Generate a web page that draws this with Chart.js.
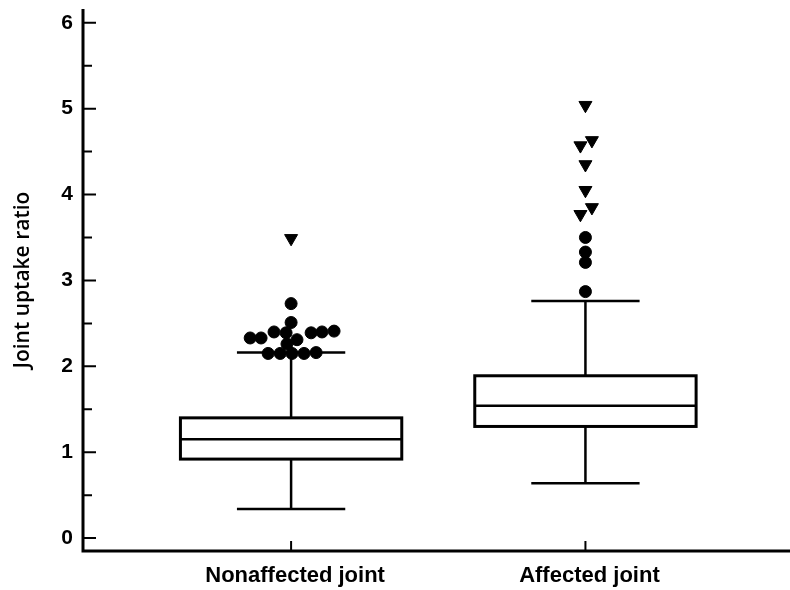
<!DOCTYPE html>
<html>
<head>
<meta charset="utf-8">
<script src="https://cdn.jsdelivr.net/npm/chart.js@4/dist/chart.umd.min.js"></script>
<style>
    html, body { margin: 0; padding: 0; background: #fff; overflow: hidden; }
    canvas { display: block; }
</style>
</head>
<body>
<canvas id="graficoCaja" width="790" height="590"></canvas>
<script>
// Categorias y estadisticos de cada caja
const categorias = ['Nonaffected joint', 'Affected joint'];
const bigoteInferior = [0.34, 0.64];
const cuartil1 = [0.92, 1.30];
const medianas = [1.15, 1.54];
const cuartil3 = [1.40, 1.89];
const bigoteSuperior = [2.16, 2.76];

// Valores atipicos (circulos y triangulos) y su desplazamiento horizontal
const noAfectadaCirculos = [2.73, 2.51, 2.33, 2.33, 2.40, 2.39, 2.31, 2.39, 2.40, 2.41, 2.26, 2.15, 2.15, 2.15, 2.15, 2.16];
const noAfectadaCirculosDesp = [0, 0, -0.139, -0.102, -0.058, -0.017, 0.020, 0.068, 0.105, 0.146, -0.014, -0.078, -0.037, 0.003, 0.044, 0.085];
const noAfectadaTriangulos = [3.49];
const noAfectadaTriangulosDesp = [0];
const afectadaCirculos = [3.50, 3.33, 3.21, 2.87];
const afectadaCirculosDesp = [0, 0, 0, 0];
const afectadaTriangulos = [5.04, 4.63, 4.57, 4.35, 4.05, 3.85, 3.77];
const afectadaTriangulosDesp = [0, 0.022, -0.017, 0, 0, 0.022, -0.017];

// Ticks del eje Y
const ticksY = [0, 1, 2, 3, 4, 5, 6];
const ticksMenoresY = [0.5, 1.5, 2.5, 3.5, 4.5, 5.5];

function puntos(posicion, valores, desp) {
    return valores.map((v, i) => ({ x: posicion + desp[i], y: v }));
}

// Plugin para dibujar las cajas con las escalas del grafico
const pluginCajas = {
    id: 'cajas',
    beforeDatasetsDraw(chart) {
        const ctx = chart.ctx;
        const x = chart.scales.x;
        const y = chart.scales.y;
        const medioAncho = 0.376;
        const medioTope = 0.184;
        ctx.save();
        ctx.strokeStyle = '#000';
        categorias.forEach((c, i) => {
            const pos = i + 1;
            const xl = x.getPixelForValue(pos - medioAncho);
            const xr = x.getPixelForValue(pos + medioAncho);
            const xc = x.getPixelForValue(pos);
            const cl = x.getPixelForValue(pos - medioTope);
            const cr = x.getPixelForValue(pos + medioTope);
            const yq1 = y.getPixelForValue(cuartil1[i]);
            const yq3 = y.getPixelForValue(cuartil3[i]);
            const ymed = y.getPixelForValue(medianas[i]);
            const ylo = y.getPixelForValue(bigoteInferior[i]);
            const yhi = y.getPixelForValue(bigoteSuperior[i]);

            // bigotes
            ctx.lineWidth = 2.5;
            ctx.beginPath();
            ctx.moveTo(xc, yq3); ctx.lineTo(xc, yhi);
            ctx.moveTo(xc, yq1); ctx.lineTo(xc, ylo);
            ctx.moveTo(cl, yhi); ctx.lineTo(cr, yhi);
            ctx.moveTo(cl, ylo); ctx.lineTo(cr, ylo);
            ctx.stroke();

            // caja
            ctx.lineWidth = 3;
            ctx.strokeRect(xl, yq3, xr - xl, yq1 - yq3);

            // mediana
            ctx.lineWidth = 2.5;
            ctx.beginPath();
            ctx.moveTo(xl, ymed); ctx.lineTo(xr, ymed);
            ctx.stroke();
        });
        ctx.restore();
    },
    afterDraw(chart) {
        const ctx = chart.ctx;
        const x = chart.scales.x;
        const y = chart.scales.y;
        const area = chart.chartArea;
        ctx.save();
        ctx.strokeStyle = '#000';
        ctx.lineWidth = 3;
        ctx.beginPath();
        ctx.moveTo(area.left, area.top);
        ctx.lineTo(area.left, area.bottom);
        ctx.lineTo(area.right, area.bottom);
        ctx.stroke();

        ctx.lineWidth = 2;
        ctx.beginPath();
        ticksY.forEach(v => {
            const py = y.getPixelForValue(v);
            ctx.moveTo(area.left, py); ctx.lineTo(area.left + 13, py);
        });
        ticksMenoresY.forEach(v => {
            const py = y.getPixelForValue(v);
            ctx.moveTo(area.left, py); ctx.lineTo(area.left + 9, py);
        });
        categorias.forEach((c, i) => {
            const px = x.getPixelForValue(i + 1);
            ctx.moveTo(px, area.bottom); ctx.lineTo(px, area.bottom - 10);
        });
        ctx.stroke();
        ctx.restore();
    }
};

function crearGrafico() {
    const ctx = document.getElementById('graficoCaja').getContext('2d');
    new Chart(ctx, {
        type: 'scatter',
        data: {
            datasets: [
                {
                    data: puntos(1, noAfectadaCirculos, noAfectadaCirculosDesp)
                        .concat(puntos(2, afectadaCirculos, afectadaCirculosDesp)),
                    pointStyle: 'circle',
                    pointRadius: 6,
                    pointBorderWidth: 1,
                    backgroundColor: '#000',
                    borderColor: '#000'
                },
                {
                    data: puntos(1, noAfectadaTriangulos, noAfectadaTriangulosDesp)
                        .concat(puntos(2, afectadaTriangulos, afectadaTriangulosDesp)),
                    pointStyle: 'triangle',
                    pointRotation: 180,
                    pointRadius: 7.5,
                    pointBorderWidth: 1,
                    backgroundColor: '#000',
                    borderColor: '#000'
                }
            ]
        },
        options: {
            responsive: false,
            animation: false,
            layout: { autoPadding: false, padding: { top: 9, right: 0, left: 0, bottom: 0 } },
            plugins: {
                legend: { display: false },
                tooltip: { enabled: false }
            },
            scales: {
                x: {
                    type: 'linear',
                    min: 0.293,
                    max: 2.695,
                    afterBuildTicks: (scale) => {
                        scale.ticks = categorias.map((c, i) => ({ value: i + 1 }));
                    },
                    afterFit: (scale) => {
                        scale.height = 39;
                        scale.paddingLeft = 0;
                        scale.paddingRight = 0;
                    },
                    grid: { display: false, drawTicks: false },
                    border: { display: false },
                    ticks: {
                        callback: (v) => categorias[v - 1],
                        color: '#000',
                        padding: 12,
                        labelOffset: 4,
                        maxRotation: 0,
                        font: { family: 'Liberation Sans, Arial', size: 22, weight: 'bold' }
                    }
                },
                y: {
                    min: -0.15,
                    max: 6.16,
                    afterBuildTicks: (scale) => {
                        scale.ticks = ticksY.map(v => ({ value: v }));
                    },
                    afterFit: (scale) => {
                        scale.width = 83;
                        scale.paddingTop = 0;
                        scale.paddingBottom = 0;
                    },
                    grid: { display: false, drawTicks: false },
                    border: { display: false },
                    ticks: {
                        color: '#000',
                        padding: 10,
                        font: { family: 'Liberation Sans, Arial', size: 21, weight: 'bold' }
                    },
                    title: {
                        display: true,
                        text: 'Joint uptake ratio',
                        color: '#000',
                        padding: { top: 10, bottom: 0 },
                        font: { family: 'Open Sans', size: 21, weight: '600' }
                    }
                }
            }
        },
        plugins: [pluginCajas]
    });
}

document.addEventListener('DOMContentLoaded', function() {
    crearGrafico();
});
</script>
</body>
</html>
